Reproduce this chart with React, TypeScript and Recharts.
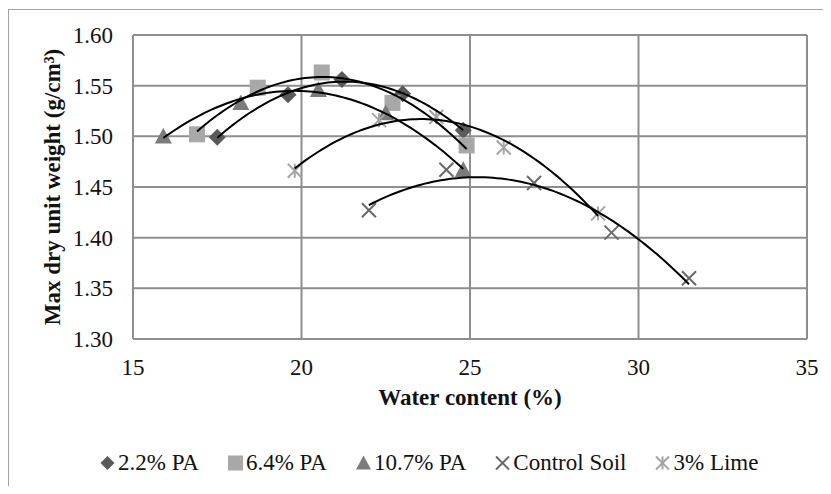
import React from 'react';
import { ComposedChart, Scatter, Line, XAxis, YAxis, CartesianGrid, Legend } from 'recharts';

// Compaction test results: water content (%) vs. max dry unit weight (g/cm³)
const seriesNames = ['2.2% PA', '6.4% PA', '10.7% PA', 'Control Soil', '3% Lime'];

const pa22 = [
  { x: 17.5, y: 1.499 },
  { x: 19.6, y: 1.541 },
  { x: 21.2, y: 1.556 },
  { x: 23.0, y: 1.542 },
  { x: 24.8, y: 1.506 },
];
const pa64 = [
  { x: 16.9, y: 1.502 },
  { x: 18.7, y: 1.548 },
  { x: 20.6, y: 1.563 },
  { x: 22.7, y: 1.533 },
  { x: 24.9, y: 1.491 },
];
const pa107 = [
  { x: 15.9, y: 1.5 },
  { x: 18.2, y: 1.533 },
  { x: 20.5, y: 1.546 },
  { x: 22.5, y: 1.523 },
  { x: 24.8, y: 1.467 },
];
const controlSoil = [
  { x: 22.0, y: 1.427 },
  { x: 24.3, y: 1.467 },
  { x: 26.9, y: 1.454 },
  { x: 29.2, y: 1.405 },
  { x: 31.5, y: 1.36 },
];
const lime3 = [
  { x: 19.8, y: 1.466 },
  { x: 22.3, y: 1.516 },
  { x: 24.0, y: 1.519 },
  { x: 26.0, y: 1.489 },
  { x: 28.8, y: 1.424 },
];

const xTicks = [15, 20, 25, 30, 35];
const yTicks = [1.3, 1.35, 1.4, 1.45, 1.5, 1.55, 1.6];

type Pt = { x: number; y: number };

// Second-order polynomial trendline (least squares), sampled over the data's x range
function polyTrend(pts: Pt[], samples = 80): Pt[] {
  const mx = pts.reduce((s, p) => s + p.x, 0) / pts.length;
  const S = [0, 0, 0, 0, 0];
  const T = [0, 0, 0];
  for (const p of pts) {
    const u = p.x - mx;
    let pw = 1;
    for (let k = 0; k < 5; k++) {
      S[k] += pw;
      if (k < 3) T[k] += pw * p.y;
      pw *= u;
    }
  }
  const A = [
    [S[0], S[1], S[2], T[0]],
    [S[1], S[2], S[3], T[1]],
    [S[2], S[3], S[4], T[2]],
  ];
  for (let i = 0; i < 3; i++) {
    for (let j = i + 1; j < 3; j++) {
      const f = A[j][i] / A[i][i];
      for (let k = i; k < 4; k++) A[j][k] -= f * A[i][k];
    }
  }
  const c = [0, 0, 0];
  for (let i = 2; i >= 0; i--) {
    let v = A[i][3];
    for (let k = i + 1; k < 3; k++) v -= A[i][k] * c[k];
    c[i] = v / A[i][i];
  }
  const xs = pts.map((p) => p.x);
  const lo = Math.min(...xs);
  const hi = Math.max(...xs);
  const out: Pt[] = [];
  for (let i = 0; i <= samples; i++) {
    const x = lo + ((hi - lo) * i) / samples;
    const u = x - mx;
    out.push({ x, y: c[0] + c[1] * u + c[2] * u * u });
  }
  return out;
}

const C_DIAMOND = '#5a5a5a';
const C_SQUARE = '#a8a8a8';
const C_TRIANGLE = '#7c7c7c';
const C_CROSS = '#6a6a6a';
const C_STAR = '#a4a4a4';

const diamond = (cx: number, cy: number, r: number, fill: string) => (
  <polygon points={`${cx},${cy - r} ${cx + r},${cy} ${cx},${cy + r} ${cx - r},${cy}`} fill={fill} />
);
const square = (cx: number, cy: number, r: number, fill: string) => (
  <rect x={cx - r} y={cy - r} width={2 * r} height={2 * r} fill={fill} />
);
const triangle = (cx: number, cy: number, r: number, fill: string) => (
  <polygon points={`${cx},${cy - r} ${cx + r},${cy + r * 0.85} ${cx - r},${cy + r * 0.85}`} fill={fill} />
);
const cross = (cx: number, cy: number, r: number, stroke: string) => (
  <g stroke={stroke} strokeWidth={2}>
    <line x1={cx - r} y1={cy - r} x2={cx + r} y2={cy + r} />
    <line x1={cx - r} y1={cy + r} x2={cx + r} y2={cy - r} />
  </g>
);
const star = (cx: number, cy: number, r: number, stroke: string) => (
  <g stroke={stroke} strokeWidth={2}>
    <line x1={cx - r} y1={cy - r} x2={cx + r} y2={cy + r} />
    <line x1={cx - r} y1={cy + r} x2={cx + r} y2={cy - r} />
    <line x1={cx} y1={cy - r} x2={cx} y2={cy + r} />
  </g>
);

const markers = [
  (cx: number, cy: number, big: boolean) => diamond(cx, cy, big ? 8.5 : 7, C_DIAMOND),
  (cx: number, cy: number, big: boolean) => square(cx, cy, big ? 8 : 7.5, C_SQUARE),
  (cx: number, cy: number, big: boolean) => triangle(cx, cy, big ? 8.5 : 7.5, C_TRIANGLE),
  (cx: number, cy: number, big: boolean) => cross(cx, cy, big ? 7 : 6.5, C_CROSS),
  (cx: number, cy: number, big: boolean) => star(cx, cy, big ? 7 : 6.5, C_STAR),
];

const seriesData = [pa22, pa64, pa107, controlSoil, lime3];
const FONT = '"Liberation Serif", "Times New Roman", serif';

const LegendRow = () => (
  <div
    style={{
      display: 'flex',
      alignItems: 'center',
      height: 30,
      paddingLeft: 99,
      fontFamily: FONT,
      fontSize: 23,
      color: '#111',
    }}
  >
    {seriesNames.map((name, i) => (
      <div key={name} style={{ display: 'flex', alignItems: 'center', marginRight: 28 }}>
        <svg width={17} height={20} style={{ marginRight: 2 }}>
          {markers[i](8.5, 10, false)}
        </svg>
        <span>{name}</span>
      </div>
    ))}
  </div>
);

export default function App() {
  const trends = seriesData.map((d) => polyTrend(d));
  return (
    <div
      style={{
        position: 'relative',
        width: 831,
        height: 494,
        margin: -8,
        background: '#fff',
        overflow: 'hidden',
      }}
    >
      <div
        style={{
          position: 'absolute',
          left: 8,
          top: 9,
          width: 900,
          height: 600,
          borderLeft: '1.5px solid #a3a3a3',
          borderTop: '1.5px solid #a3a3a3',
        }}
      />
      <ComposedChart
        width={831}
        height={494}
        margin={{ top: 35, right: 24, bottom: 16, left: 0 }}
        style={{ position: 'absolute', left: 0, top: 0 }}
      >
        <CartesianGrid stroke="#8e8e8e" strokeWidth={2} />
        <XAxis
          type="number"
          dataKey="x"
          domain={[15, 35]}
          ticks={xTicks}
          allowDataOverflow
          height={109}
          tickSize={0}
          tickMargin={20}
          axisLine={{ stroke: '#8e8e8e', strokeWidth: 2 }}
          tick={{ fill: '#111', fontSize: 23, fontFamily: FONT }}
          label={{
            content: (p: any) => {
              const vb = p.viewBox || {};
              return (
                <text
                  x={vb.x + vb.width / 2}
                  y={vb.y + 66}
                  textAnchor="middle"
                  fontFamily={FONT}
                  fontSize={23}
                  fontWeight="bold"
                  fill="#111"
                >
                  Water content (%)
                </text>
              );
            },
          }}
        />
        <YAxis
          type="number"
          dataKey="y"
          domain={[1.3, 1.6]}
          ticks={yTicks}
          allowDataOverflow
          width={133}
          tickSize={0}
          tickMargin={20}
          tickFormatter={(v: number) => v.toFixed(2)}
          axisLine={{ stroke: '#8e8e8e', strokeWidth: 2 }}
          tick={{ fill: '#111', fontSize: 23, fontFamily: FONT }}
          label={{
            content: (p: any) => {
              const vb = p.viewBox || {};
              const x = 60;
              const y = vb.y + vb.height / 2;
              return (
                <text
                  x={x}
                  y={y}
                  transform={`rotate(-90, ${x}, ${y})`}
                  textAnchor="middle"
                  fontFamily={FONT}
                  fontSize={23}
                  fontWeight="bold"
                  fill="#111"
                >
                  Max dry unit weight (g/cm³)
                </text>
              );
            },
          }}
        />
        {seriesData.map((d, i) => (
          <Scatter
            key={seriesNames[i]}
            name={seriesNames[i]}
            data={d}
            isAnimationActive={false}
            shape={(p: any) => markers[i](p.cx, p.cy, true)}
          />
        ))}
        {trends.map((t, i) => (
          <Line
            key={'trend-' + seriesNames[i]}
            data={t}
            dataKey="y"
            type="linear"
            stroke="#000"
            strokeWidth={2}
            dot={false}
            activeDot={false}
            legendType="none"
            isAnimationActive={false}
            zIndex={700}
          />
        ))}
        <Legend
          verticalAlign="bottom"
          content={() => <LegendRow />}
          wrapperStyle={{ left: 0, width: 831, height: 30 }}
        />
      </ComposedChart>
    </div>
  );
}
